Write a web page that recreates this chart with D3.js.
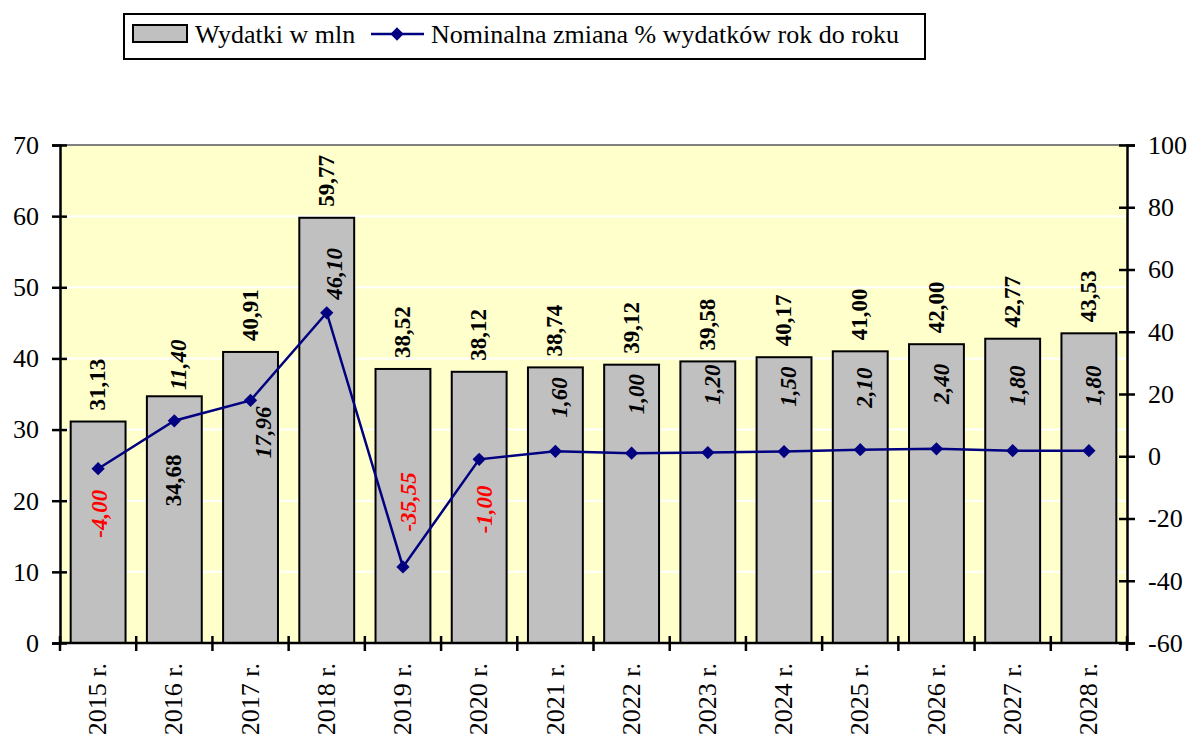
<!DOCTYPE html>
<html>
<head>
<meta charset="utf-8">
<script src="https://cdn.jsdelivr.net/npm/d3@7"></script>
<style>
  html, body { margin: 0; padding: 0; background: #fff; }
  svg { display: block; }
  text { font-family: "Liberation Serif", "Times New Roman", serif; }
</style>
</head>
<body>
<svg id="chart" width="1189" height="740" font-family='"Liberation Serif", "Times New Roman", serif'></svg>
<script>
// ---- data ----
const years = ["2015 r.", "2016 r.", "2017 r.", "2018 r.", "2019 r.", "2020 r.", "2021 r.",
               "2022 r.", "2023 r.", "2024 r.", "2025 r.", "2026 r.", "2027 r.", "2028 r."];
const spending = [31.13, 34.68, 40.91, 59.77, 38.52, 38.12, 38.74, 39.12, 39.58, 40.17, 41.00, 42.00, 42.77, 43.53];
const pctChange = [-4.00, 11.40, 17.96, 46.10, -35.55, -1.00, 1.60, 1.00, 1.20, 1.50, 2.10, 2.40, 1.80, 1.80];
const leftTicks = [0, 10, 20, 30, 40, 50, 60, 70];
const rightTicks = [-60, -40, -20, 0, 20, 40, 60, 80, 100];
const seriesNames = ["Wydatki w mln", "Nominalna zmiana % wydatków rok do roku"];

// ---- label layout (pixel offsets, kept apart from data) ----
const pctLabelDy = [45, -56, 32, -39, -65, 50, -54, -59, -68, -65, -62, -65, -65, -65];
const pctLabelDx = [1, 4, 12, 7, 5, 5, 4, 4, 4, 4, 4, 4, 4, 4];
const barLabelInsideDy = [null, 84, null, null, null, null, null, null, null, null, null, null, null, null];

const FONT = '"Liberation Serif", "Times New Roman", serif';
const fmt = v => v.toFixed(2).replace(".", ",");
const tickFmt = d => String(d);

const svg = d3.select("#chart");
const L = 60, R = 1127, T = 145, B = 643;

const x = d3.scaleBand().domain(years).range([L, R]).paddingInner(0.28).paddingOuter(0.14);
const yL = d3.scaleLinear().domain([0, 70]).range([B, T]);
const yR = d3.scaleLinear().domain([-60, 100]).range([B, T]);

// plot background
svg.append("rect").attr("x", L).attr("y", T).attr("width", R - L).attr("height", B - T)
  .attr("fill", "#FFFFCC");

// gridlines
svg.append("g").selectAll("line").data(leftTicks.filter(d => d > 0 && d < 70)).join("line")
  .attr("x1", L).attr("x2", R).attr("y1", d => yL(d)).attr("y2", d => yL(d))
  .attr("stroke", "#fff").attr("stroke-width", 2);
svg.append("line").attr("x1", L).attr("x2", R).attr("y1", yL(70)).attr("y2", yL(70))
  .attr("stroke", "#808080").attr("stroke-width", 2);

// bars
svg.append("g").selectAll("rect").data(spending).join("rect")
  .attr("x", (d, i) => x(years[i]))
  .attr("y", d => yL(d))
  .attr("width", x.bandwidth())
  .attr("height", d => yL(0) - yL(d))
  .attr("fill", "#C0C0C0").attr("stroke", "#000").attr("stroke-width", 2);

// left axis
const axL = svg.append("g").attr("transform", `translate(${L},0)`)
  .call(d3.axisLeft(yL).tickValues(leftTicks).tickSize(8).tickPadding(13).tickFormat(tickFmt));
axL.attr("font-family", FONT);
axL.select(".domain").attr("stroke", "#000").attr("stroke-width", 2.5);
axL.selectAll(".tick line").attr("x1", 7).attr("x2", -8).attr("stroke", "#000").attr("stroke-width", 2.5);
axL.selectAll(".tick text").attr("font-size", 26).attr("fill", "#000").attr("font-family", FONT);

// right axis
const axR = svg.append("g").attr("transform", `translate(${R},0)`)
  .call(d3.axisRight(yR).tickValues(rightTicks).tickSize(8).tickPadding(13).tickFormat(tickFmt));
axR.attr("font-family", FONT);
axR.select(".domain").attr("stroke", "#000").attr("stroke-width", 2.5);
axR.selectAll(".tick line").attr("x1", -8).attr("x2", 8).attr("stroke", "#000").attr("stroke-width", 2.5);
axR.selectAll(".tick text").attr("font-size", 26).attr("fill", "#000").attr("font-family", FONT);

// bottom axis line and boundary ticks
svg.append("line").attr("x1", L).attr("x2", R).attr("y1", B).attr("y2", B)
  .attr("stroke", "#000").attr("stroke-width", 2.5);
const halfGap = (x.step() - x.bandwidth()) / 2;
const bounds = years.map(c => x(c) - halfGap).concat([x(years[years.length - 1]) + x.bandwidth() + halfGap]);
svg.append("g").selectAll("line").data(bounds).join("line")
  .attr("x1", d => d).attr("x2", d => d).attr("y1", B - 7).attr("y2", B + 8)
  .attr("stroke", "#000").attr("stroke-width", 2.5);

// category labels
svg.append("g").selectAll("text").data(years).join("text")
  .attr("transform", d => `translate(${x(d) + x.bandwidth() / 2 - 1},${B + 20}) rotate(-90)`)
  .attr("text-anchor", "end").attr("dy", "0.35em")
  .attr("font-size", 26).attr("fill", "#000").attr("font-family", FONT)
  .text(d => d);

// line series
const cx = i => x(years[i]) + x.bandwidth() / 2;
const line = d3.line().x((d, i) => cx(i)).y(d => yR(d));
svg.append("path").datum(pctChange).attr("d", line)
  .attr("fill", "none").attr("stroke", "#000080").attr("stroke-width", 2.5);
const diamond = d3.symbol().type(d3.symbolSquare).size(88);
svg.append("g").selectAll("path").data(pctChange).join("path")
  .attr("d", diamond)
  .attr("transform", (d, i) => `translate(${cx(i)},${yR(d)}) rotate(45)`)
  .attr("fill", "#000080");

// bar value labels
svg.append("g").selectAll("text").data(spending).join("text")
  .attr("transform", (d, i) => {
    const inside = barLabelInsideDy[i] != null;
    const yy = inside ? yL(d) + barLabelInsideDy[i] : yL(d) - 11;
    return `translate(${cx(i) - 1},${yy}) rotate(-90)`;
  })
  .attr("text-anchor", (d, i) => barLabelInsideDy[i] != null ? "middle" : "start")
  .attr("dy", "0.35em")
  .attr("font-size", 23).attr("font-weight", "bold").attr("fill", "#000").attr("font-family", FONT)
  .text(d => fmt(d));

// percent labels
svg.append("g").selectAll("text").data(pctChange).join("text")
  .attr("transform", (d, i) => `translate(${cx(i) + pctLabelDx[i]},${yR(d) + pctLabelDy[i]}) rotate(-90)`)
  .attr("text-anchor", "middle").attr("dy", "0.35em")
  .attr("font-size", 23).attr("font-weight", "bold").attr("font-style", "italic")
  .attr("font-family", FONT)
  .attr("fill", d => d < 0 ? "#FF0000" : "#000")
  .text(d => fmt(d));

// legend
const lg = svg.append("g").attr("font-family", FONT);
lg.append("rect").attr("x", 124).attr("y", 14).attr("width", 801).attr("height", 45)
  .attr("fill", "#fff").attr("stroke", "#000").attr("stroke-width", 2);
lg.append("rect").attr("x", 133).attr("y", 25).attr("width", 54).attr("height", 17)
  .attr("fill", "#C0C0C0").attr("stroke", "#000").attr("stroke-width", 2);
lg.append("text").attr("x", 195).attr("y", 43).attr("font-size", 26).attr("fill", "#000").text(seriesNames[0]);
lg.append("line").attr("x1", 371).attr("x2", 424).attr("y1", 34).attr("y2", 34)
  .attr("stroke", "#000080").attr("stroke-width", 2.5);
lg.append("path").attr("d", diamond).attr("transform", "translate(397,34) rotate(45)").attr("fill", "#000080");
lg.append("text").attr("x", 431).attr("y", 43).attr("font-size", 26).attr("fill", "#000").text(seriesNames[1]);
</script>
</body>
</html>
